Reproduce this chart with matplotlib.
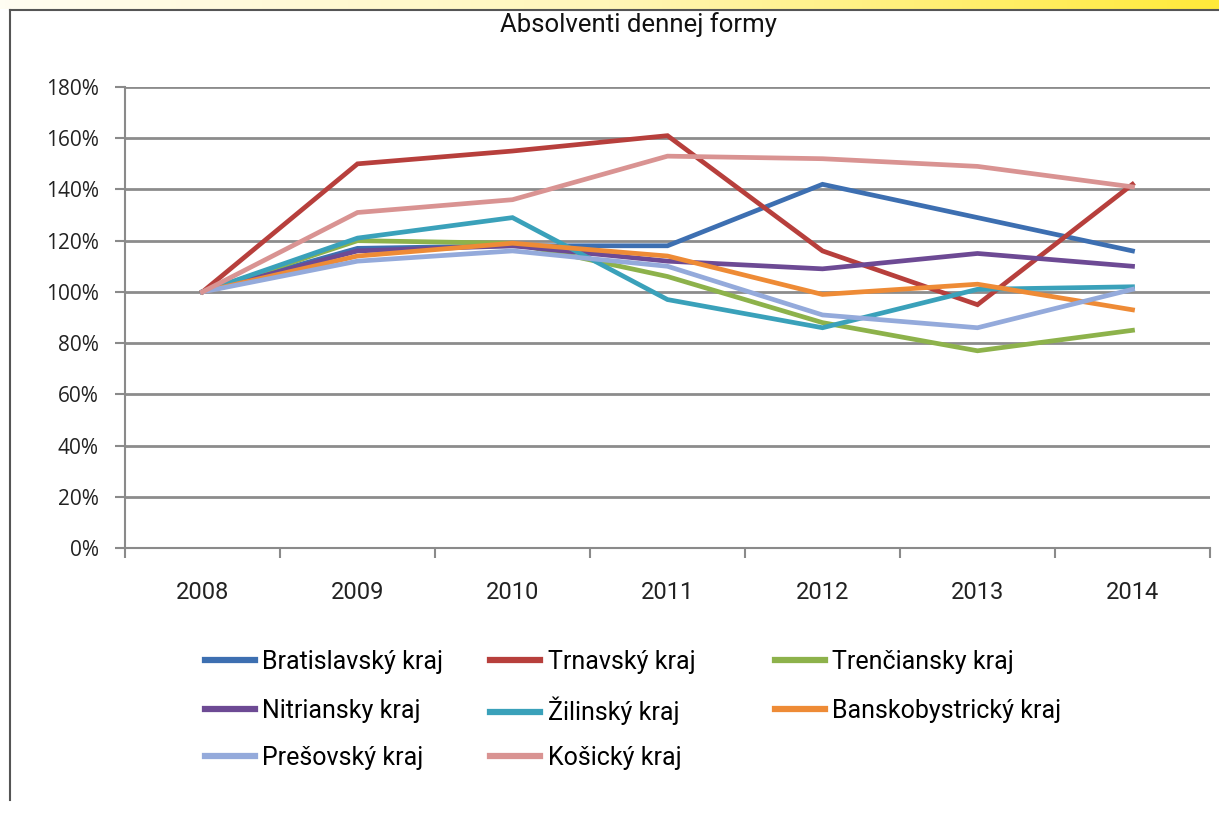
import matplotlib
matplotlib.use('Agg')
import matplotlib.pyplot as plt
import numpy as np
from matplotlib.lines import Line2D
from matplotlib.colors import LinearSegmentedColormap

years = ['2008', '2009', '2010', '2011', '2012', '2013', '2014']

bratislavsky = [100, 117, 118, 118, 142, 129, 116]
trnavsky = [100, 150, 155, 161, 116, 95, 142]
trenciansky = [100, 120, 119, 106, 88, 77, 85]
nitriansky = [100, 116, 118, 112, 109, 115, 110]
zilinsky = [100, 121, 129, 97, 86, 101, 102]
banskobystricky = [100, 114, 119, 114, 99, 103, 93]
presovsky = [100, 112, 116, 110, 91, 86, 101]
kosicky = [100, 131, 136, 153, 152, 149, 141]

names = ['Bratislavský kraj', 'Trnavský kraj', 'Trenčiansky kraj', 'Nitriansky kraj',
         'Žilinský kraj', 'Banskobystrický kraj', 'Prešovský kraj', 'Košický kraj']
series = [bratislavsky, trnavsky, trenciansky, nitriansky,
          zilinsky, banskobystricky, presovsky, kosicky]
colors = ['#3D6FB1', '#B73F3C', '#8DB24B', '#6D4A94',
          '#3AA1BA', '#EE8B36', '#94AADB', '#D99392']

W, H = 1219, 813
fig = plt.figure(figsize=(W / 100, H / 100), dpi=100)

# yellow band at the top of the page
band = fig.add_axes([0, 1 - 9 / H, 1, 9 / H])
grad = np.linspace(0, 1, 256).reshape(1, -1)
cm = LinearSegmentedColormap.from_list('y', ['#FFFDF2', '#FFF6B8', '#FFEA3A'])
band.imshow(grad, aspect='auto', cmap=cm, extent=[0, 1, 0, 1])
band.axis('off')

# frame of the chart box
fig.add_artist(Line2D([10 / W, 1], [1 - 10 / H, 1 - 10 / H], color='#555555', lw=1.5))
fig.add_artist(Line2D([10 / W, 10 / W], [1 - 10 / H, 1 - 800 / H], color='#555555', lw=1.5))

ax = fig.add_axes([125 / W, 1 - 548 / H, (1210 - 125) / W, (548 - 87) / H])
x = np.arange(len(years))
for vals, c, n in zip(series, colors, names):
    ax.plot(x, np.array(vals) / 100, color=c, lw=3.4, label=n, solid_joinstyle='miter')

ax.set_xlim(-0.5, len(years) - 0.5)
ax.set_ylim(0, 1.8)
ax.set_yticks(np.arange(0, 1.81, 0.2))
ax.set_yticklabels([f'{int(round(v * 100))}%' for v in np.arange(0, 1.81, 0.2)],
                   fontsize=15, family='Open Sans', color='#222222')
ax.set_xticks(np.arange(-0.5, len(years)), labels=[''] * (len(years) + 1))
ax.set_xticks(x, labels=years, minor=True)
ax.tick_params(axis='x', which='minor', length=0, pad=24, labelsize=17, labelcolor='#222222')
for t in ax.get_xticklabels(minor=True):
    t.set_family('Roboto')
ax.tick_params(axis='x', which='major', length=7, width=1.5, color='#8a8a8a', direction='out')
ax.tick_params(axis='y', length=7, width=1.5, color='#8a8a8a', pad=12)
ax.grid(axis='y', color='#8c8c8c', lw=2)
ax.set_axisbelow(True)
for s in ['top', 'right']:
    ax.spines[s].set_visible(False)
for s in ['left', 'bottom']:
    ax.spines[s].set_color('#8a8a8a')
    ax.spines[s].set_linewidth(1.5)

fig.text(638 / W, 1 - 25 / H, 'Absolventi dennej formy', ha='center', va='center',
         fontsize=18.5, family='Roboto', color='#111111')

# one legend entry per slot, three columns
handles = ax.get_lines()
col_x = [205, 490, 775]
row_y = [662, 711, 758]
for i, (h, n) in enumerate(zip(handles, names)):
    r, c = divmod(i, 3)
    leg = fig.legend([h], [n], loc='center left',
                     bbox_to_anchor=(col_x[c] / W, 1 - row_y[r] / H),
                     frameon=False, handlelength=2.0, handletextpad=0.3,
                     borderaxespad=0, borderpad=0,
                     prop={'family': 'Roboto', 'size': 18})
    for line in leg.get_lines():
        line.set_linewidth(4.5)

fig.savefig('out.png', dpi=100)
